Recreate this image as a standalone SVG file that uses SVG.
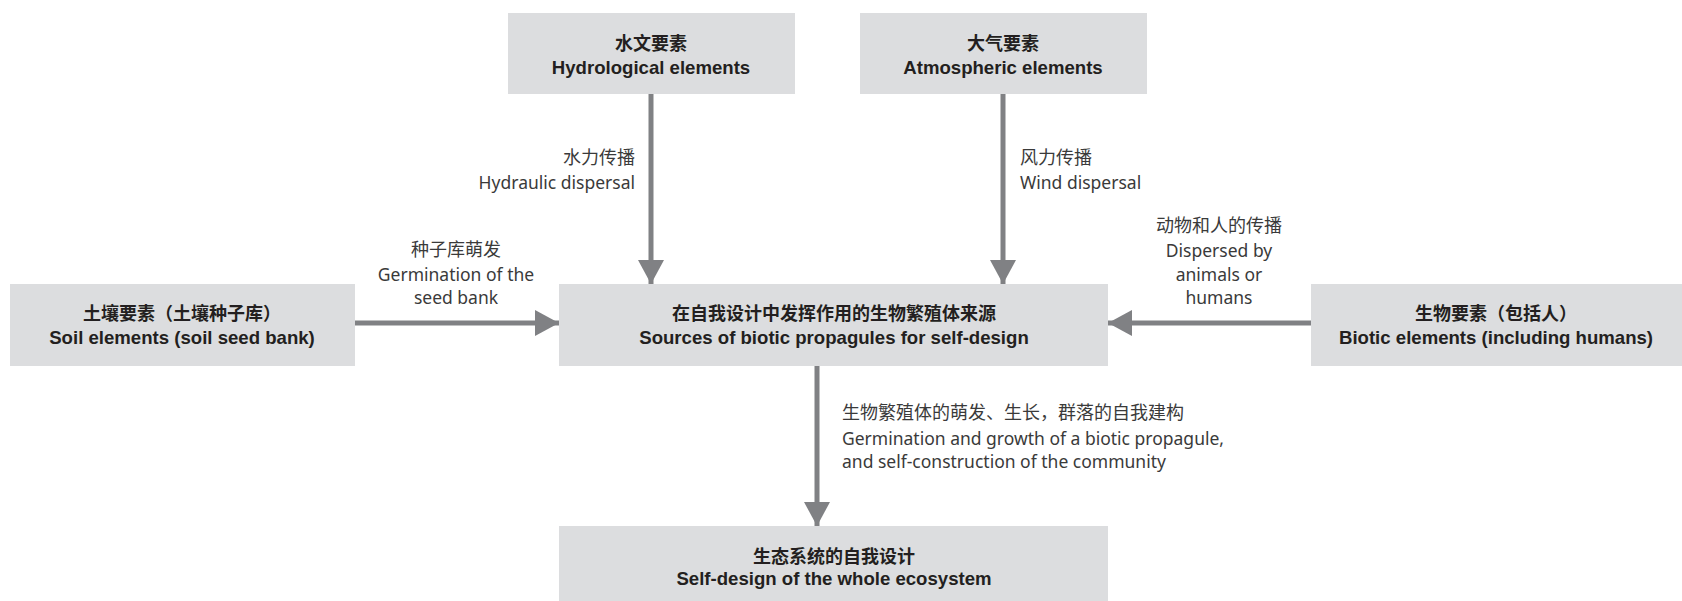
<svg xmlns="http://www.w3.org/2000/svg" width="1682" height="601" viewBox="0 0 1682 601">
<defs>
<style>
.box{fill:#dcdddf;}
.t{font-family:"Liberation Sans","Noto Sans CJK SC",sans-serif;font-weight:bold;font-size:18.6px;fill:#231f20;text-anchor:middle;}
.tc{font-family:"Noto Sans CJK SC",sans-serif;font-weight:bold;font-size:18px;fill:#231f20;text-anchor:middle;}
.l{font-family:"Noto Sans","Noto Sans CJK SC",sans-serif;font-size:17.5px;fill:#3a3a3a;}
.lc{font-family:"Noto Sans CJK SC",sans-serif;font-size:18px;fill:#3a3a3a;}
.c{stroke:#808184;stroke-width:5;fill:none;}
</style>
<marker id="ah" viewBox="0 0 24 26" refX="24" refY="13" markerWidth="24" markerHeight="26" markerUnits="userSpaceOnUse" orient="auto">
<path d="M0,0 L24,13 L0,26 Z" fill="#808184"/>
</marker>
</defs>
<rect width="1682" height="601" fill="#ffffff"/>
<g id="connectors">
<line class="c" x1="651" y1="94" x2="651" y2="284" marker-end="url(#ah)"/>
<line class="c" x1="1003" y1="94" x2="1003" y2="284" marker-end="url(#ah)"/>
<line class="c" x1="355" y1="323" x2="559" y2="323" marker-end="url(#ah)"/>
<line class="c" x1="1311" y1="323" x2="1108" y2="323" marker-end="url(#ah)"/>
<line class="c" x1="817" y1="366" x2="817" y2="526" marker-end="url(#ah)"/>
<text class="lc" x="635" y="164" text-anchor="end">水力传播</text>
<text class="l" x="635" y="189" text-anchor="end">Hydraulic dispersal</text>
<text class="lc" x="1020" y="164">风力传播</text>
<text class="l" x="1020" y="189">Wind dispersal</text>
<text class="lc" x="456" y="256" text-anchor="middle">种子库萌发</text>
<text class="l" x="456" y="281" text-anchor="middle">Germination of the</text>
<text class="l" x="456" y="304" text-anchor="middle">seed bank</text>
<text class="lc" x="1219" y="232" text-anchor="middle">动物和人的传播</text>
<text class="l" x="1219" y="257" text-anchor="middle">Dispersed by</text>
<text class="l" x="1219" y="281" text-anchor="middle">animals or</text>
<text class="l" x="1219" y="304" text-anchor="middle">humans</text>
<text class="lc" x="842" y="419">生物繁殖体的萌发、生长，群落的自我建构</text>
<text class="l" x="842" y="445">Germination and growth of a biotic propagule,</text>
<text class="l" x="842" y="468">and self-construction of the community</text>
</g>
<g id="hydro">
<rect class="box" x="508" y="13" width="287" height="81"/>
<text class="tc" x="651" y="50">水文要素</text>
<text class="t" x="651" y="73.5">Hydrological elements</text>
</g>
<g id="atmos">
<rect class="box" x="860" y="13" width="287" height="81"/>
<text class="tc" x="1003" y="50">大气要素</text>
<text class="t" x="1003" y="73.5">Atmospheric elements</text>
</g>
<g id="soil">
<rect class="box" x="10" y="284" width="345" height="82"/>
<text class="tc" x="182" y="320">土壤要素（土壤种子库）</text>
<text class="t" x="182" y="344">Soil elements (soil seed bank)</text>
</g>
<g id="center">
<rect class="box" x="559" y="284" width="549" height="82"/>
<text class="tc" x="834" y="320">在自我设计中发挥作用的生物繁殖体来源</text>
<text class="t" x="834" y="344">Sources of biotic propagules for self-design</text>
</g>
<g id="biotic">
<rect class="box" x="1311" y="284" width="371" height="82"/>
<text class="tc" x="1496" y="320">生物要素（包括人）</text>
<text class="t" x="1496" y="344">Biotic elements (including humans)</text>
</g>
<g id="bottom">
<rect class="box" x="559" y="526" width="549" height="75"/>
<text class="tc" x="834" y="563">生态系统的自我设计</text>
<text class="t" x="834" y="585">Self-design of the whole ecosystem</text>
</g>
</svg>
